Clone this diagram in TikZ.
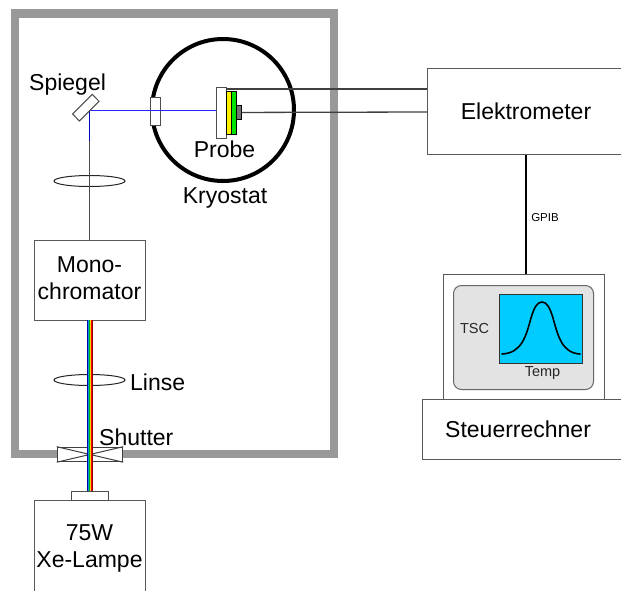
\documentclass[tikz,border=0pt]{standalone}
\usepackage{fontspec}
\usetikzlibrary{shapes.geometric}
\setmainfont{Liberation Sans}
\definecolor{screenblue}{RGB}{0,204,255}
\begin{document}
\begin{tikzpicture}[x=1pt,y=-1pt,
  box/.style={draw=black!65,line width=1.2pt,fill=white,inner sep=0pt,anchor=north west,align=center,font=\fontsize{23}{26.5}\selectfont},
  part/.style={draw=black!70,line width=1.1pt,fill=white},
  lbl/.style={inner sep=0pt,font=\fontsize{23}{26.5}\selectfont},
  wire/.style={draw=black!75,line width=1.3pt},
  ray/.style={line width=1pt},
  lens/.style={draw=black!85,line width=1pt,ellipse,minimum width=71pt,minimum height=11pt,inner sep=0pt}]
\useasboundingbox (0,0) rectangle (621,590);
\clip (0,0) rectangle (621,590);
% housing
\draw[draw=black!40,line width=8.5pt] (15,13.5) rectangle (334,454);
% boxes
\node[box,minimum width=111pt,minimum height=80pt] (mono) at (34,240) {};
\node[lbl,align=center,anchor=center] (monotext) at (89.5,278) {Mono-\\chromator};
\node[box,minimum width=111pt,minimum height=100pt] (lamp) at (34,500) {};
\node[lbl,align=center,anchor=north] (lamptext) at (89.5,524.5) {75W\\Xe-Lampe};
\node[part,anchor=north west,minimum width=37pt,minimum height=9pt,inner sep=0pt] (cap) at (71,491) {};
\node[box,minimum width=200pt,minimum height=86pt] (elek) at (427,68) {};
\node[lbl,anchor=center] (elektext) at (526,111) {Elektrometer};
\node[box,minimum width=161pt,minimum height=125pt] (pc) at (443,274) {};
\node[box,minimum width=200pt,minimum height=60pt] (steuer) at (422,399) {};
\node[lbl,anchor=west] (steuertext) at (445,429) {Steuerrechner};
% screen
\node[anchor=north west,draw=black!60,line width=1pt,fill=black!11,rounded corners=8pt,minimum width=140pt,minimum height=104pt,inner sep=0pt] (panel) at (453,285) {};
\node[anchor=north west,draw=black!80,line width=1pt,fill=screenblue,minimum width=83pt,minimum height=69pt,inner sep=0pt] (screen) at (499,294) {};
\draw[black,line width=1.6pt,line cap=round] (502,354) .. controls (522,353) and (526,336) .. (531,318) .. controls (534,308) and (537,302) .. (542,302) .. controls (547,302) and (550,308) .. (553,318) .. controls (558,336) and (562,353) .. (580,354);
\node[inner sep=0pt,font=\fontsize{14.5}{16}\selectfont,text=black!85] (tsc) at (474.5,328) {TSC};
\node[inner sep=0pt,font=\fontsize{14.5}{16}\selectfont,text=black!85] (temp) at (542.5,373) {Temp};
% wires
\draw[black,line width=2pt] (elek.south -| 526,154) -- (pc.north -| 526,274);
\node[inner sep=0pt,font=\fontsize{11.5}{13}\selectfont] (gpib) at (545,218) {GPIB};
% kryostat
\node[draw=black,line width=4pt,circle,minimum size=142pt,inner sep=0pt] (kryo) at (223,110) {};
\node[part,anchor=north west,minimum width=10pt,minimum height=28pt,inner sep=0pt] (window) at (149.5,97) {};
\coordinate (mirrorpt) at (89.5,110.5);
% lenses
\node[lens] (lens1) at (89.5,181) {};
\node[lens] (lens2) at (89.5,380) {};
\draw[draw=black!70,ray] (mono.north -| mirrorpt) -- (mirrorpt);
\draw[draw=blue!75!black,ray] (mirrorpt) -- ++(0,30);
\draw[draw=blue!85,ray] (mirrorpt) -- (216,110.5);
\draw[part,line width=1pt] (92.3,94.3) -- (99,101.3) -- (79.3,121) -- (72.7,114) -- cycle;
% shutter
\node[anchor=north west,draw=black!75,line width=1pt,fill=white,minimum width=65.5pt,minimum height=14.5pt,inner sep=0pt] (shut) at (56.7,446.7) {};
\draw[draw=black!75,line width=1pt] (shut.north west) -- (shut.south east) (shut.south west) -- (shut.north east);
% white-light bundle
\foreach \x/\c in {87.5/blue!70!black,88.5/cyan!80!blue,89.5/green!70!black,90.5/yellow!90!black,91.5/red,92.5/red!60!black}{
  \draw[draw=\c,line width=1pt] (\x,320) -- (\x,491);
}
% sample
\node[part,anchor=north west,minimum width=10pt,minimum height=51pt,inner sep=0pt] (holder) at (216,87) {};
\node[draw=black,line width=0.9pt,fill=yellow,anchor=north west,minimum width=4.5pt,minimum height=43pt,inner sep=0pt] (yel) at (226,91) {};
\node[draw=black,line width=0.9pt,fill=green!90!black,anchor=north west,minimum width=5pt,minimum height=43pt,inner sep=0pt] (grn) at (230.5,91) {};
\node[draw=black,line width=0.9pt,fill=black!55,anchor=north west,minimum width=5pt,minimum height=14pt,inner sep=0pt] (cont) at (235.5,105) {};
\draw[wire] (226,89) -- (427,89);
\draw[wire] (cont.east) -- (427,112);
% labels
\node[lbl,anchor=west] (spiegel) at (29,85) {Spiegel};
\node[lbl] (probe) at (224.5,149) {Probe};
\node[lbl] (kryotext) at (225,198) {Kryostat};
\node[lbl,anchor=west] (linse) at (130,382) {Linse};
\node[lbl,anchor=west] (shutter) at (99,437) {Shutter};
\end{tikzpicture}
\end{document}
